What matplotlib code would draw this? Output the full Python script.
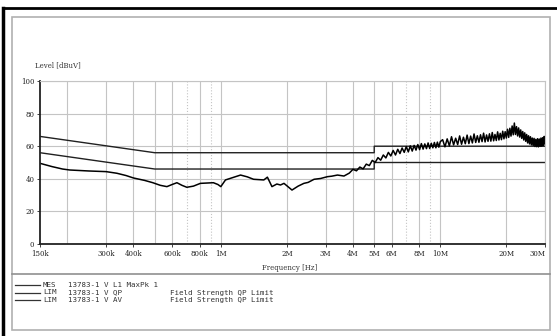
from matplotlib import pyplot as plt
from matplotlib.lines import Line2D
from matplotlib.patches import Rectangle

# measured level (MaxPk), freq in MHz
freq_mes = [0.15, 0.17, 0.19, 0.205, 0.25, 0.30, 0.336, 0.37, 0.40, 0.45,
            0.49, 0.53, 0.568, 0.60, 0.631, 0.665, 0.70, 0.75, 0.807, 0.86,
            0.925, 0.97, 1.0, 1.05, 1.12, 1.23, 1.32, 1.41, 1.57, 1.63,
            1.71, 1.80, 1.87, 1.94, 2.03, 2.11, 2.25, 2.39, 2.5, 2.66,
            2.85, 3.06, 3.2, 3.4, 3.64, 3.85,
            4.00, 4.15, 4.30, 4.45, 4.60, 4.75, 4.90, 5.05, 5.20, 5.35,
            5.50, 5.65, 5.80, 5.95, 6.10, 6.25, 6.40, 6.55, 6.70, 6.85,
            7.00, 7.15, 7.30, 7.45, 7.60, 7.75, 7.90, 8.05, 8.20, 8.35,
            8.50, 8.65, 8.80, 8.95, 9.10, 9.25, 9.40, 9.55, 9.70, 9.85,
            10.00,
            10.25, 10.50, 10.75, 11.00, 11.25, 11.50, 11.75, 12.00, 12.25, 12.50,
            12.75, 13.00, 13.25, 13.50, 13.75, 14.00, 14.25, 14.50, 14.75, 15.00,
            15.25, 15.50, 15.75, 16.00, 16.25, 16.50, 16.75, 17.00, 17.25, 17.50,
            17.75, 18.00, 18.25, 18.50, 18.75, 19.00, 19.25, 19.50, 19.75, 20.00,
            20.25, 20.50, 20.75, 21.00, 21.25, 21.50, 21.75, 22.00, 22.25, 22.50,
            22.75, 23.00, 23.25, 23.50, 23.75, 24.00, 24.25, 24.50, 24.75, 25.00,
            25.25, 25.50, 25.75, 26.00, 26.25, 26.50, 26.75, 27.00, 27.25, 27.50,
            27.75, 28.00, 28.25, 28.50, 28.75, 29.00, 29.25, 29.50, 29.75, 30.00]
level_mes = [49.5, 47.5, 46.0, 45.4, 44.8, 44.4, 43.4, 42.0, 40.5, 39.0,
             37.6, 36.0, 35.2, 36.5, 37.6, 36.0, 34.8, 35.5, 37.2, 37.4,
             37.6, 36.5, 35.2, 39.3, 40.5, 42.3, 41.2, 39.7, 39.3, 41.0,
             35.2, 36.8, 36.2, 37.2, 35.0, 33.1, 35.5, 37.2, 37.8, 39.7,
             40.2, 41.3, 41.6, 42.3, 41.7, 43.5,
             45.8, 44.9, 47.2, 46.1, 49.0, 48.1, 51.3, 50.0, 53.0, 51.4,
             54.6, 52.8, 56.2, 54.0, 57.4, 54.6, 58.1, 55.5, 58.9, 56.2,
             59.8, 56.5, 60.2, 57.0, 60.5, 57.6, 61.0, 57.9, 61.6, 58.2,
             61.4, 58.5, 62.0, 58.6, 61.8, 59.0, 62.3, 59.0, 62.5, 59.4,
             62.8,
             64.0, 59.6, 64.5, 60.2, 65.8, 60.8, 64.9, 61.0, 66.3, 61.2,
             65.5, 61.5, 66.8, 61.6, 66.2, 62.0, 67.5, 62.3, 66.4, 62.4,
             67.0, 62.8, 68.0, 62.6, 66.9, 63.0, 67.6, 63.1, 68.4, 63.3,
             67.2, 63.5, 68.8, 63.8, 67.9, 64.0, 69.2, 64.5, 68.9, 65.0,
             70.4, 65.4, 71.0, 66.2, 72.4, 67.0, 74.2, 67.2, 72.0, 66.3,
             71.2, 65.6, 70.0, 64.8, 69.0, 63.8, 68.2, 63.0, 67.2, 62.0,
             66.4, 61.4, 65.8, 60.8, 65.0, 60.4, 64.8, 59.8, 64.2, 59.7,
             64.6, 59.6, 64.4, 59.9, 65.0, 60.0, 65.2, 60.4, 66.0, 61.5]

# limit lines
freq_lim = [0.15, 0.5, 5.0, 5.0, 30.0]
qp_lim = [66, 56, 56, 60, 60]
av_lim = [56, 46, 46, 50, 50]

tick_f = [0.15, 0.3, 0.4, 0.6, 0.8, 1, 2, 3, 4, 5, 6, 8, 10, 20, 30]
tick_lab = ['150k', '300k', '400k', '600k', '800k', '1M', '2M', '3M', '4M',
            '5M', '6M', '8M', '10M', '20M', '30M']
grid_f = [0.2, 0.3, 0.4, 0.5, 0.6, 0.7, 0.8, 0.9, 1, 2, 3, 4, 5, 6, 7, 8, 9,
          10, 20, 30]

W, H = 557, 336
fig = plt.figure(figsize=(W / 100, H / 100), dpi=100)
fig.patch.set_facecolor('white')

def fx(px):
    return px / W

def fy(py):
    return 1 - py / H

# outer black frame (top + left) and inner gray panels
fig.add_artist(Line2D([fx(3), 1], [fy(8), fy(8)], color='black', lw=2))
fig.add_artist(Line2D([fx(3), fx(3)], [fy(8), 0], color='black', lw=2.5))
fig.add_artist(Rectangle((fx(12), fy(330)), fx(550 - 12), (330 - 17) / H,
                         fill=False, ec='#b0b0b0', lw=1.2))
fig.add_artist(Line2D([fx(12), fx(550)], [fy(274), fy(274)], color='#909090', lw=1.2))

ax = fig.add_axes([fx(40), fy(244), fx(545 - 40), (244 - 81) / H])
ax.set_xscale('log')
ax.set_xlim(0.15, 30)
ax.set_ylim(0, 100)

for f in grid_f:
    ls = ':' if f in (0.7, 0.9, 7, 9) else '-'
    ax.axvline(f, color='#c4c4c4', lw=0.8, ls=ls, zorder=0)
for v in [20, 40, 60, 80, 100]:
    ax.axhline(v, color='#c4c4c4', lw=0.8, zorder=0)

ax.plot(freq_lim, qp_lim, color='#202020', lw=1.0)
ax.plot(freq_lim, av_lim, color='#202020', lw=1.0)
ax.plot(freq_mes, level_mes, color='black', lw=1.1)

ax.set_xticks(tick_f)
ax.set_xticklabels(tick_lab, family='DejaVu Serif')
ax.xaxis.set_minor_locator(plt.NullLocator())
ax.set_yticks([0, 20, 40, 60, 80, 100])
ax.set_yticklabels(['0', '20', '40', '60', '80', '100'], family='DejaVu Serif')
ax.tick_params(axis='both', labelsize=5, length=2, width=0.6, pad=2,
               colors='#222222')
ax.get_xticklabels()[-1].set_horizontalalignment('right')
for s in ['top', 'right']:
    ax.spines[s].set_color('#c4c4c4')
    ax.spines[s].set_linewidth(0.8)
for s in ['left', 'bottom']:
    ax.spines[s].set_color('#222222')
    ax.spines[s].set_linewidth(1.3)

fig.text(fx(35), fy(65), 'Level [dBuV]', fontsize=5, color='#333333',
         family='DejaVu Serif', va='center')
fig.text(fx(290), fy(268), 'Frequency [Hz]', fontsize=5, color='#333333',
         family='DejaVu Serif', ha='center', va='center')

# legend block
rows = [('MES', '13783-1 V L1 MaxPk 1', ''),
        ('LIM', '13783-1 V QP', 'Field Strength QP Limit'),
        ('LIM', '13783-1 V AV', 'Field Strength QP Limit')]
for i, (a, b, c) in enumerate(rows):
    y = fy(285 + i * 7.5)
    fig.add_artist(Line2D([fx(15), fx(40)], [y, y], color='#333333', lw=0.9))
    kw = dict(fontsize=5.4, family='DejaVu Sans Mono', color='#333333', va='center')
    fig.text(fx(43), y, a, **kw)
    fig.text(fx(68), y, b, **kw)
    fig.text(fx(170), y, c, **kw)

fig.savefig('out.png', dpi=100)
